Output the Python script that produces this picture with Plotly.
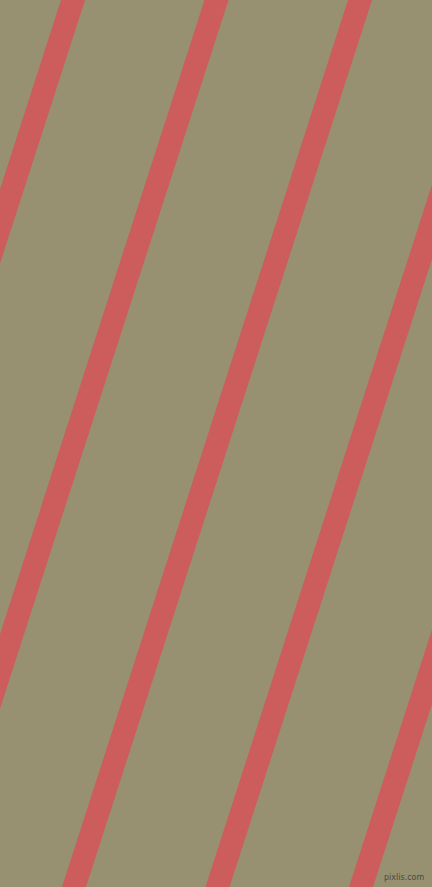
import plotly.graph_objects as go

# stripe centres (px) along the top edge and the bottom edge of the picture
stripe_top = [-70.5, 73, 216.5, 360, 503.5, 647]
stripe_bottom = [-356.5, -213, -69.5, 74, 217.5, 361]
stripe_width = 24

W, H = 432, 887
bg = "#979171"
red = "#cd5c5c"

fig = go.Figure()

for t, b in zip(stripe_top, stripe_bottom):
    half = stripe_width / 2
    fig.add_trace(go.Scatter(
        x=[t - half, t + half, b + half, b - half, t - half],
        y=[0, 0, H, H, 0],
        mode='lines',
        fill='toself',
        fillcolor=red,
        line=dict(width=0, color=red),
        hoverinfo='skip',
        showlegend=False
    ))

fig.add_annotation(
    x=1, y=0, xref='paper', yref='paper',
    xanchor='right', yanchor='bottom',
    xshift=-6, yshift=3,
    text='pixlis.com', showarrow=False,
    font=dict(family='DejaVu Sans', size=8, color='#4a4a40')
)

fig.update_layout(
    width=W, height=H,
    margin=dict(l=0, r=0, t=0, b=0),
    paper_bgcolor=bg,
    plot_bgcolor=bg,
    xaxis=dict(range=[0, W], visible=False, fixedrange=True),
    yaxis=dict(range=[H, 0], visible=False, fixedrange=True),
)

fig.write_html("out.html", config={'displayModeBar': False},
               post_script="document.body.style.margin='0';")
